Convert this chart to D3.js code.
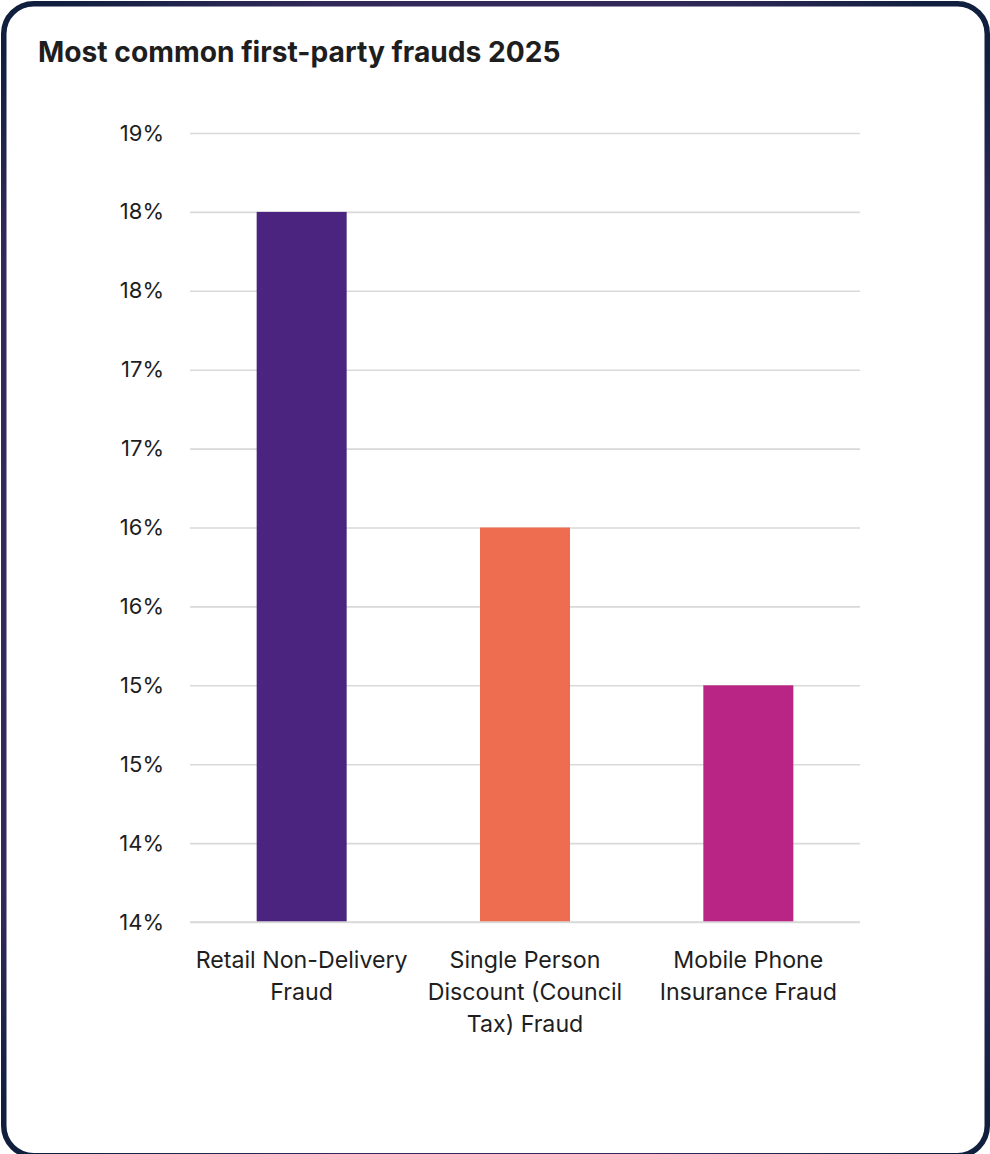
<!DOCTYPE html>
<html>
<head>
<meta charset="utf-8">
<script src="https://cdn.jsdelivr.net/npm/d3@7"></script>
<style>
  html, body { margin: 0; padding: 0; background: #ffffff; }
  svg { display: block; }
</style>
</head>
<body>
<svg id="chart" width="990" height="1154"></svg>
<script>
// Chart data
const title = "Most common first-party frauds 2025";
const categories = [
  ["Retail Non-Delivery", "Fraud"],
  ["Single Person", "Discount (Council", "Tax) Fraud"],
  ["Mobile Phone", "Insurance Fraud"]
];
const values = [18, 16, 15];
const barColors = ["#4a247e", "#ee6c50", "#b92584"];
const tickValues = [13.5, 14, 14.5, 15, 15.5, 16, 16.5, 17, 17.5, 18, 18.5];
const tickLabels = ["14%", "14%", "15%", "15%", "16%", "16%", "17%", "17%", "18%", "18%", "19%"];

const svg = d3.select("#chart");
const W = 990, H = 1154;
const font = "Inter, 'Noto Sans', sans-serif";

// Card frame with a gradient border (navy corners, purple edges)
const defs = svg.append("defs");
const grad = defs.append("radialGradient")
  .attr("id", "frameGrad")
  .attr("gradientUnits", "userSpaceOnUse")
  .attr("cx", W / 2).attr("cy", H / 2).attr("r", 760);
grad.append("stop").attr("offset", 0).attr("stop-color", "#3a2b62");
grad.append("stop").attr("offset", 0.78).attr("stop-color", "#32295a");
grad.append("stop").attr("offset", 0.95).attr("stop-color", "#0f1f3d");
grad.append("stop").attr("offset", 1).attr("stop-color", "#0f1f3d");

svg.append("rect")
  .attr("x", 3.75).attr("y", 3.75)
  .attr("width", 983.5).attr("height", 1152)
  .attr("rx", 30).attr("ry", 30)
  .attr("fill", "#ffffff")
  .attr("stroke", "url(#frameGrad)")
  .attr("stroke-width", 5.5);

// Title
svg.append("text")
  .attr("x", 38).attr("y", 62)
  .attr("font-family", font)
  .attr("font-size", 28.2)
  .attr("font-weight", 700)
  .attr("fill", "#1e1e1e")
  .text(title);

// Plot area
const plot = { left: 190, right: 860, top: 133, bottom: 922 };

const x = d3.scaleBand()
  .domain(d3.range(values.length))
  .range([plot.left, plot.right])
  .paddingInner(0.597)
  .paddingOuter(0.2985);

const y = d3.scaleLinear()
  .domain([13.5, 18.5])
  .range([plot.bottom, plot.top]);

// Gridlines + tick labels via axis
const yAxis = d3.axisLeft(y)
  .tickValues(tickValues)
  .tickFormat((d, i) => tickLabels[i])
  .tickSize(-(plot.right - plot.left))
  .tickPadding(26);

const gAxis = svg.append("g")
  .attr("transform", `translate(${plot.left},0)`)
  .call(yAxis);
gAxis.select(".domain").remove();
gAxis.selectAll(".tick line")
  .attr("stroke", "#d9d9d9")
  .attr("stroke-width", 1.6);
gAxis.selectAll(".tick text")
  .attr("font-family", font)
  .attr("font-size", 22)
  .attr("fill", "#1e1e1e");

// Bars
svg.append("g").selectAll("rect")
  .data(values)
  .join("rect")
  .attr("x", (d, i) => x(i))
  .attr("width", x.bandwidth())
  .attr("y", d => y(d))
  .attr("height", d => y(13.5) - y(d))
  .attr("fill", (d, i) => barColors[i]);

// Redraw baseline over bars
svg.append("line")
  .attr("x1", plot.left).attr("x2", plot.right)
  .attr("y1", y(13.5)).attr("y2", y(13.5))
  .attr("stroke", "#d9d9d9").attr("stroke-width", 1.6);

// Category labels (multi-line)
const catG = svg.append("g").selectAll("text")
  .data(categories)
  .join("text")
  .attr("text-anchor", "middle")
  .attr("font-family", font)
  .attr("font-size", 23.2)
  .attr("fill", "#1e1e1e");
catG.each(function (lines, i) {
  const t = d3.select(this);
  lines.forEach((ln, j) => {
    t.append("tspan")
      .attr("x", x(i) + x.bandwidth() / 2)
      .attr("y", 968 + j * 32)
      .text(ln);
  });
});
</script>
</body>
</html>
